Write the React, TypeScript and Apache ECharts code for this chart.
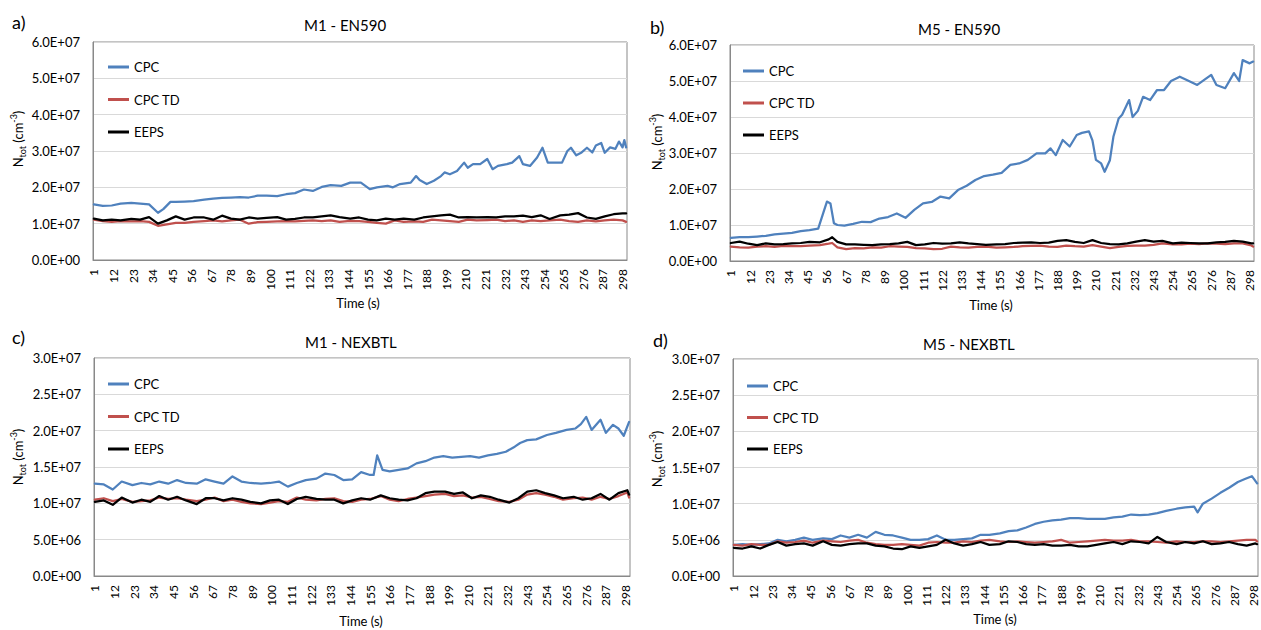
import React, { useEffect, useRef } from "react";
import * as echarts from "echarts";

// Time categories (s)
const seconds = Array.from({ length: 300 }, (_, i) => String(i + 1));

// ---- Panel a) M1 - EN590 (values in 1e6 cm^-3) ----
const aCPC = [[1,15.3],[6,14.9],[11,15.0],[16,15.5],[22,15.7],[27,15.5],[32,15.3],[37,13.0],[40,14.0],[44,16.0],[47,16.0],[52,16.1],[57,16.2],[63,16.6],[68,16.9],[73,17.1],[78,17.2],[83,17.3],[88,17.2],[93,17.7],[98,17.7],[104,17.6],[109,18.1],[114,18.4],[119,19.4],[124,19.0],[129,20.1],[134,20.6],[140,20.4],[145,21.3],[151,21.3],[156,19.5],[160,20.0],[166,20.4],[169,20.0],[173,20.9],[179,21.3],[182,23.1],[184,22.0],[188,20.9],[192,21.8],[196,23.1],[198,24.1],[201,23.6],[205,24.5],[209,26.8],[211,25.4],[214,26.4],[218,26.4],[222,27.8],[225,25.0],[228,25.9],[233,26.4],[236,26.8],[240,28.6],[242,26.4],[246,25.9],[250,28.2],[253,30.9],[256,26.8],[259,26.8],[264,26.8],[267,30.0],[269,30.9],[272,28.8],[275,29.6],[278,30.9],[281,29.6],[283,31.5],[286,32.2],[288,29.5],[291,31.0],[294,30.6],[296,32.6],[298,31.0],[299,33.0],[300,31.0]];
const secA = [1,6,11,16,22,27,32,37,42,47,52,57,63,68,73,78,83,88,93,98,104,109,114,119,124,129,134,139,145,150,155,160,165,170,175,181,186,191,196,201,206,211,216,222,227,232,237,242,247,252,257,263,268,273,278,283,288,293,298,300];
const aTD = [11.1,10.7,10.5,10.7,10.6,10.7,10.5,9.4,9.8,10.2,10.2,10.5,10.7,10.9,10.6,10.9,11.1,10.0,10.4,10.5,10.6,10.7,10.6,10.8,10.9,10.7,10.9,10.5,10.8,10.7,10.5,10.2,10.0,10.9,10.5,10.6,10.5,11.1,10.9,10.7,10.5,11.1,10.9,11.0,11.1,10.7,10.9,10.5,10.9,10.7,10.9,11.1,10.7,10.5,10.9,10.6,10.9,11.1,10.9,10.5];
const aEEPS = [11.4,10.9,11.1,10.9,11.3,11.1,11.8,10.0,10.9,12.0,11.1,11.7,11.7,11.1,12.2,11.4,11.1,11.7,11.4,11.6,11.8,11.1,11.3,11.7,11.7,12.0,12.3,11.8,11.4,11.7,11.1,10.9,11.4,11.1,11.4,11.1,11.7,12.0,12.3,12.5,11.7,11.8,11.7,11.8,11.7,12.0,12.0,12.2,11.8,12.3,11.3,12.3,12.5,12.9,11.7,11.3,12.0,12.6,12.8,12.8];

// ---- Panel b) M5 - EN590 ----
const bCPC = [[1,6.4],[6,6.6],[11,6.6],[16,6.8],[21,7.0],[26,7.4],[31,7.6],[36,7.8],[41,8.3],[46,8.6],[51,9.0],[54,13.5],[56,16.5],[58,16.0],[60,10.5],[62,10.0],[66,9.8],[71,10.3],[76,10.9],[81,10.8],[86,11.8],[91,12.2],[96,13.2],[101,12.0],[106,14.2],[111,16.0],[116,16.4],[121,17.9],[126,17.4],[131,19.7],[136,20.9],[141,22.5],[146,23.6],[151,24.0],[156,24.5],[161,26.7],[166,27.1],[171,28.1],[176,29.9],[181,29.9],[184,31.3],[187,29.4],[191,33.6],[195,31.8],[199,35.0],[202,35.6],[206,36.0],[208,33.5],[210,28.1],[213,27.1],[215,24.8],[218,28.0],[220,34.5],[223,39.6],[225,40.6],[229,44.7],[231,40.0],[234,41.7],[237,45.6],[241,44.7],[245,47.5],[249,47.5],[253,50.0],[258,51.2],[262,50.3],[268,48.9],[272,50.3],[276,51.7],[279,48.9],[284,48.0],[289,52.2],[292,50.0],[294,55.8],[298,54.9],[300,55.4]];
const secB = [1,6,11,16,21,26,31,36,41,46,52,57,59,62,67,72,77,82,87,92,97,102,107,112,117,122,127,132,137,142,147,153,158,163,168,173,178,183,188,193,198,203,208,213,218,223,228,233,238,243,248,254,259,264,269,274,279,284,289,294,299,300];
const bTD = [4.0,3.8,3.7,4.0,4.1,3.9,4.2,4.1,4.1,4.3,4.4,4.8,5.0,3.8,3.3,3.6,3.5,3.8,3.7,4.1,4.0,3.9,3.6,3.5,3.3,3.4,4.0,3.8,3.7,3.9,4.0,3.7,3.8,3.9,4.1,4.2,4.3,4.0,3.9,4.3,4.1,4.0,4.4,4.0,3.6,3.9,4.2,4.3,4.3,4.5,4.9,4.6,4.6,4.8,4.7,4.9,4.8,4.7,4.9,4.9,4.3,4.0];
const bEEPS = [5.0,5.4,4.8,4.4,4.9,4.6,4.7,4.9,5.0,5.3,5.2,6.0,6.6,5.3,4.6,4.6,4.5,4.4,4.6,4.7,4.9,5.3,4.4,4.6,5.0,4.8,4.9,5.2,4.9,4.7,4.5,4.6,4.7,5.0,5.1,5.2,5.0,5.1,5.6,5.8,5.3,5.0,5.8,5.0,4.7,4.6,4.9,5.4,5.8,5.4,5.6,4.9,5.1,5.0,4.9,4.9,5.2,5.3,5.6,5.4,4.9,4.9];

// ---- Panel c) M1 - NEXBTL ----
const cCPC = [[1,12.7],[6,12.6],[11,11.9],[16,13.0],[22,12.5],[27,12.8],[32,12.6],[37,13.0],[42,12.7],[47,13.2],[52,12.8],[58,12.7],[63,13.3],[68,13.0],[73,12.7],[78,13.7],[83,13.0],[88,12.8],[94,12.7],[99,12.8],[104,13.0],[109,12.3],[114,12.8],[119,13.2],[125,13.4],[130,14.1],[135,13.9],[140,13.2],[145,13.3],[150,14.3],[155,13.9],[157,13.9],[159,16.6],[162,14.6],[166,14.4],[171,14.6],[176,14.8],[181,15.5],[186,15.8],[191,16.3],[196,16.5],[201,16.3],[206,16.4],[211,16.5],[216,16.3],[221,16.6],[226,16.8],[231,17.1],[236,17.8],[239,18.3],[243,18.7],[248,18.8],[254,19.4],[259,19.7],[265,20.1],[270,20.3],[273,20.9],[276,21.9],[279,20.1],[284,21.5],[287,19.7],[291,20.8],[294,20.3],[297,19.3],[300,21.2]];
const secC = [1,6,11,16,22,27,32,37,42,47,52,58,63,68,73,78,83,88,94,99,104,109,114,119,125,130,135,140,145,150,155,161,166,171,176,181,186,191,197,202,207,212,217,222,227,233,238,243,248,253,258,263,269,274,279,284,289,294,299,300];
const cTD = [10.5,10.7,10.3,10.6,10.2,10.3,10.4,10.8,10.6,10.7,10.5,10.3,10.5,10.8,10.3,10.5,10.2,10.0,9.9,10.1,10.3,10.2,10.8,10.5,10.4,10.6,10.7,10.3,10.2,10.5,10.6,11.0,10.5,10.3,10.6,10.8,11.0,11.2,11.3,11.0,11.1,10.8,10.9,10.6,10.3,10.2,10.5,11.2,11.4,11.2,10.9,10.5,10.7,10.8,10.5,10.9,10.6,11.0,11.5,10.8];
const cEEPS = [10.2,10.4,9.8,10.8,10.1,10.5,10.2,11.0,10.5,10.9,10.4,9.9,10.7,10.7,10.4,10.7,10.5,10.2,10.0,10.4,10.5,9.9,10.6,10.9,10.6,10.5,10.5,10.0,10.4,10.7,10.5,11.1,10.7,10.5,10.4,10.7,11.4,11.6,11.6,11.3,11.5,10.7,11.1,10.9,10.5,10.1,10.7,11.6,11.8,11.4,11.1,10.7,10.9,10.5,10.7,11.3,10.5,11.4,11.8,11.2];

// ---- Panel d) M5 - NEXBTL ----
const dCPC = [[1,4.3],[6,4.4],[11,4.3],[16,4.4],[21,4.5],[26,5.0],[31,4.8],[36,5.0],[41,5.3],[46,5.0],[52,5.2],[57,5.1],[62,5.6],[67,5.3],[72,5.7],[77,5.3],[82,6.1],[87,5.7],[92,5.6],[97,5.3],[102,5.0],[107,5.0],[112,5.1],[117,5.6],[122,5.0],[127,5.0],[132,5.1],[137,5.2],[142,5.7],[147,5.7],[153,5.9],[158,6.2],[163,6.3],[168,6.7],[173,7.2],[178,7.5],[183,7.7],[188,7.8],[193,8.0],[198,8.0],[203,7.9],[208,7.9],[213,7.9],[218,8.1],[223,8.2],[228,8.5],[233,8.4],[238,8.5],[243,8.7],[248,9.0],[254,9.3],[259,9.5],[264,9.6],[266,8.8],[269,10.0],[274,10.7],[279,11.5],[284,12.2],[289,13.0],[293,13.4],[297,13.8],[300,12.8]];
const secD = [1,6,11,16,21,26,31,36,41,46,52,57,62,67,72,77,82,87,92,97,102,107,112,117,122,127,132,137,142,147,153,158,163,168,173,178,183,188,193,198,203,208,213,218,223,228,233,238,243,248,254,259,264,269,274,279,284,289,294,299,300];
const dTD = [4.3,4.2,4.4,4.3,4.3,4.8,4.6,4.7,4.9,4.6,4.9,4.8,4.7,4.9,5.0,4.6,4.4,4.3,4.3,4.4,4.3,4.2,4.6,4.7,4.6,4.6,4.8,4.7,4.9,5.0,4.8,4.7,4.8,4.7,4.6,4.7,4.8,5.0,4.6,4.7,4.8,4.9,5.0,4.9,4.9,5.0,4.8,4.8,4.7,4.6,4.8,4.7,4.7,4.8,4.8,4.7,4.8,4.9,5.0,5.0,4.8];
const dEEPS = [3.9,3.8,4.1,3.8,4.3,4.7,4.2,4.4,4.5,4.2,4.8,4.3,4.2,4.4,4.5,4.5,4.2,4.1,3.8,3.7,4.1,3.9,4.1,4.3,5.0,4.5,4.2,4.4,4.7,4.3,4.4,4.8,4.7,4.4,4.3,4.4,4.2,4.2,4.3,4.1,4.1,4.3,4.5,4.7,4.4,4.8,4.7,4.5,5.4,4.7,4.4,4.7,4.5,4.8,4.4,4.5,4.7,4.4,4.2,4.5,4.4];

const seriesNames = ["CPC", "CPC TD", "EEPS"];
const colors = ["#4F81BD", "#C0504D", "#000000"];

const fromPairs = (p: number[][]) => p.map(([t, v]) => [t - 1, v]);
const zip = (sec: number[], vals: number[]) => sec.map((t, j) => [t - 1, vals[j]]);

const sci = (v: number) => {
  if (v === 0) return "0.0E+00";
  const n = v * 1e6;
  const e = Math.floor(Math.log10(n) + 1e-9);
  const m = n / Math.pow(10, e);
  return `${m.toFixed(1)}E+${String(e).padStart(2, "0")}`;
};

const FONT = "Lato";

const panels = [
  { grid: { left: 93, top: 42, width: 534, height: 218 }, max: 60, interval: 10,
    data: [fromPairs(aCPC), zip(secA, aTD), zip(secA, aEEPS)],
    legend: { left: 108, top: 59, gap: 16.5 }, letter: ["a)", 12, 22], title: ["M1 - EN590", 304, 25],
    yName: [18, 139], xName: [358, 303] },
  { grid: { left: 730, top: 45, width: 524, height: 216 }, max: 60, interval: 10,
    data: [fromPairs(bCPC), zip(secB, bTD), zip(secB, bEEPS)],
    legend: { left: 743, top: 63, gap: 16 }, letter: ["b)", 650, 27], title: ["M5 - EN590", 918, 29],
    yName: [657, 142], xName: [991, 305] },
  { grid: { left: 94, top: 358, width: 536, height: 218 }, max: 30, interval: 5,
    data: [fromPairs(cCPC), zip(secC, cTD), zip(secC, cEEPS)],
    legend: { left: 108, top: 376, gap: 16.5 }, letter: ["c)", 12, 337], title: ["M1 - NEXBTL", 305, 342],
    yName: [18, 457], xName: [361, 621] },
  { grid: { left: 733, top: 359, width: 525, height: 217 }, max: 30, interval: 5,
    data: [fromPairs(dCPC), zip(secD, dTD), zip(secD, dEEPS)],
    legend: { left: 747, top: 378, gap: 15.5 }, letter: ["d)", 653, 340], title: ["M5 - NEXBTL", 923, 344],
    yName: [657, 459], xName: [995, 619] },
];

function buildOption() {
  const grid: any[] = [];
  const xAxis: any[] = [];
  const yAxis: any[] = [];
  const series: any[] = [];
  const legend: any[] = [];
  const graphic: any[] = [];

  panels.forEach((p, k) => {
    grid.push({ ...p.grid, show: true, borderColor: "#898989", borderWidth: 1, containLabel: false });
    xAxis.push({
      type: "category", gridIndex: k, data: seconds, boundaryGap: true,
      axisTick: { show: false },
      axisLine: { show: true, lineStyle: { color: "#898989" } },
      axisLabel: { interval: 10, rotate: 90, fontSize: 12, fontFamily: FONT, color: "#000", margin: 9 },
      splitLine: { show: false },
    });
    yAxis.push({
      type: "value", gridIndex: k, min: 0, max: p.max, interval: p.interval,
      axisLine: { show: true, lineStyle: { color: "#898989" } },
      axisTick: { show: false },
      axisLabel: { formatter: sci, fontSize: 13, fontFamily: FONT, color: "#000", margin: 13 },
      splitLine: { show: true, lineStyle: { color: "#D9D9D9", width: 1 } },
    });
    seriesNames.forEach((name, s) => {
      series.push({
        type: "line", name, xAxisIndex: k, yAxisIndex: k,
        data: p.data[s], showSymbol: false, symbol: "none",
        lineStyle: { color: colors[s], width: 2.25, cap: "round", join: "round" },
        itemStyle: { color: colors[s] },
        z: 2 + s,
      });
    });
    legend.push({
      data: seriesNames, orient: "vertical", left: p.legend.left, top: p.legend.top,
      itemGap: p.legend.gap, itemWidth: 21, itemHeight: 3, icon: "rect", padding: 0,
      textStyle: { fontSize: 13, fontFamily: FONT, color: "#000", lineHeight: 16 },
      selectedMode: false,
    });
    graphic.push({
      type: "text", x: p.letter[1], y: p.letter[2],
      style: { text: p.letter[0], font: `18px ${FONT}`, fill: "#000", align: "left", verticalAlign: "middle", textAlign: "left", textVerticalAlign: "middle" },
    });
    graphic.push({
      type: "text", x: p.title[1], y: p.title[2],
      style: { text: p.title[0], font: `15px ${FONT}`, fill: "#000", align: "left", verticalAlign: "middle", textAlign: "left", textVerticalAlign: "middle" },
    });
    graphic.push({
      type: "text", x: p.xName[0], y: p.xName[1],
      style: { text: "Time (s)", font: `13px ${FONT}`, fill: "#000", align: "center", verticalAlign: "middle", textAlign: "center", textVerticalAlign: "middle" },
    });
    graphic.push({
      type: "text", x: p.yName[0], y: p.yName[1], rotation: Math.PI / 2,
      style: {
        text: "N{sub|tot} (cm{sup|-3})", font: `13px ${FONT}`, fill: "#000",
        align: "center", verticalAlign: "middle", textAlign: "center", textVerticalAlign: "middle",
        lineHeight: 18,
        rich: {
          sub: { fontSize: 9, fontFamily: FONT, fill: "#000", lineHeight: 10, verticalAlign: "bottom" },
          sup: { fontSize: 9, fontFamily: FONT, fill: "#000", lineHeight: 10, verticalAlign: "top" },
        },
      },
    });
  });

  return {
    animation: false,
    backgroundColor: "#ffffff",
    textStyle: { fontFamily: FONT },
    grid, xAxis, yAxis, series, legend, graphic,
  };
}

export default function App() {
  const ref = useRef<HTMLDivElement>(null);
  useEffect(() => {
    if (!ref.current) return;
    const chart = echarts.init(ref.current, undefined, { renderer: "svg" });
    chart.setOption(buildOption() as any);
    return () => chart.dispose();
  }, []);
  return (
    <div
      ref={ref}
      style={{ position: "fixed", left: 0, top: 0, width: 1261, height: 630, background: "#fff" }}
    />
  );
}
